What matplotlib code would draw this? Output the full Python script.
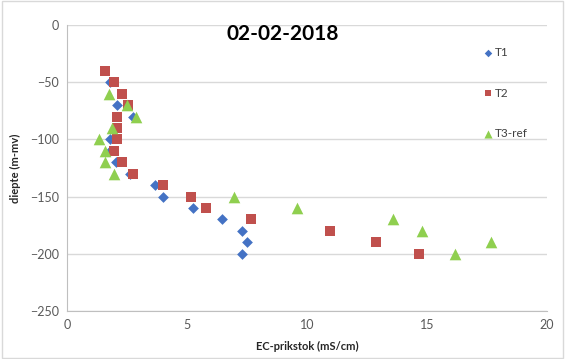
import matplotlib.pyplot as plt
import numpy as np

plt.rcParams['font.family'] = ['Lato', 'DejaVu Sans']

# EC-prikstok measurements (mS/cm) against depth (m-mv)
t1_depth = [-50, -70, -80, -100, -110, -120, -130, -140, -150, -160, -170, -180, -190, -200]
t1_ec = [1.8, 2.1, 2.75, 1.78, 1.8, 2.04, 2.62, 3.67, 3.99, 5.26, 6.47, 7.28, 7.49, 7.28]

t2_depth = [-40, -50, -60, -70, -80, -90, -100, -110, -120, -130, -140, -150, -160, -170, -180, -190, -200]
t2_ec = [1.6, 1.96, 2.29, 2.55, 2.07, 2.1, 2.07, 1.96, 2.28, 2.76, 3.99, 5.17, 5.78, 7.65, 10.96, 12.87, 14.68]

t3_depth = [-60, -70, -80, -90, -100, -110, -120, -130, -150, -160, -170, -180, -190, -200]
t3_ec = [1.75, 2.49, 2.87, 1.86, 1.35, 1.58, 1.58, 1.97, 6.96, 9.57, 13.57, 14.78, 17.65, 16.17]

fig = plt.figure(figsize=(5.65, 3.59), dpi=100)
ax = fig.add_axes([67/565, 1 - 311/359, 480/565, 286/359])

ax.scatter(t1_ec, t1_depth, marker='D', s=30, color='#4472C4', label='T1', zorder=3, linewidths=0)
ax.scatter(t2_ec, t2_depth, marker='s', s=48, color='#C0504D', label='T2', zorder=3, linewidths=0)
ax.scatter(t3_ec, t3_depth, marker='^', s=70, color='#8FCF4F', label='T3-ref', zorder=3, linewidths=0)

ax.set_xlim(0, 20)
ax.set_ylim(-250, 0)
ax.set_xticks(np.arange(0, 21, 5))
ax.set_yticks(np.arange(-250, 1, 50))
ax.yaxis.grid(True, color='#d9d9d9', linewidth=1)
ax.set_axisbelow(True)
for s in ['top', 'right']:
    ax.spines[s].set_visible(False)
for s in ['left', 'bottom']:
    ax.spines[s].set_color('#bfbfbf')
ax.tick_params(colors='#595959', labelsize=9, length=0, pad=6)

ax.set_xlabel('EC-prikstok (mS/cm)', fontsize=8, fontweight='bold', color='#262626', labelpad=7)
ax.set_ylabel('diepte (m-mv)', fontsize=8, fontweight='bold', color='#262626', labelpad=6)
fig.text(0.5, 1 - 34/359, '02-02-2018', fontsize=15, fontweight='bold', ha='center', va='center')

leg = ax.legend(loc='upper left', bbox_to_anchor=(0.84, 0.96), frameon=False, fontsize=8.5,
                labelspacing=2.5, handletextpad=0.0, handlelength=1.2, markerscale=0.7)
for t in leg.get_texts():
    t.set_color('#404040')

fig.patches.append(plt.Rectangle((0.003, 0.003), 0.994, 0.994, transform=fig.transFigure,
                                 fill=False, edgecolor='#d9d9d9', linewidth=1))

plt.savefig('out.png', dpi=100)
